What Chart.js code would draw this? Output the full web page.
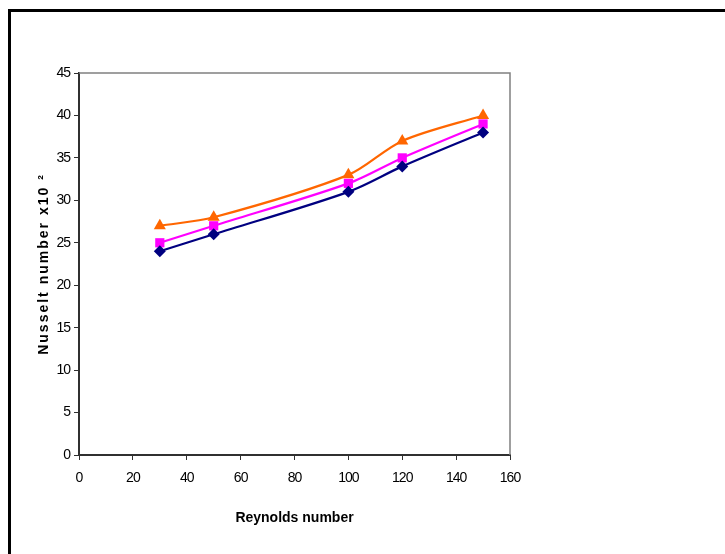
<!DOCTYPE html>
<html>
<head>
<meta charset="utf-8">
<script src="https://cdn.jsdelivr.net/npm/chart.js@4/dist/chart.umd.min.js"></script>
<style>
  body { margin: 0; background: #fff; overflow: hidden; }
  #wrap { position: relative; width: 725px; height: 554px; }
  #frame {
    position: absolute; left: 8px; top: 9px; width: 900px; height: 800px;
    border-left: 3px solid #000; border-top: 3px solid #000; pointer-events: none;
  }
</style>
</head>
<body>
<div id="wrap">
  <canvas id="chart" width="725" height="554"></canvas>
  <div id="frame"></div>
</div>
<script>
const reynolds = [30, 50, 100, 120, 150];
const nuBlue = [24, 26, 31, 34, 38];
const nuPink = [25, 27, 32, 35, 39];
const nuOrange = [27, 28, 33, 37, 40];
const xTicks = [0, 20, 40, 60, 80, 100, 120, 140, 160];
const yTicks = [0, 5, 10, 15, 20, 25, 30, 35, 40, 45];

const tickFont = { family: "'Liberation Sans', Arial, sans-serif", size: 14 };

function toPoints(ys) {
  return reynolds.map((x, i) => ({ x: x, y: ys[i] }));
}

// grey border round the plot area (top and right sides)
const plotBorder = {
  id: 'plotBorder',
  beforeDatasetsDraw(chart) {
    const { ctx, chartArea: a } = chart;
    ctx.save();
    ctx.strokeStyle = '#808080';
    ctx.lineWidth = 1.5;
    ctx.beginPath();
    ctx.moveTo(a.left, a.top);
    ctx.lineTo(a.right, a.top);
    ctx.lineTo(a.right, a.bottom);
    ctx.stroke();
    ctx.restore();
  }
};

// letter spacing tweaks: spaced y title, squeezed tick labels
function withSpacing(chart, fn, spacing) {
  return function () {
    const ctx = chart.ctx;
    ctx.save();
    ctx.letterSpacing = spacing;
    fn.apply(this, arguments);
    ctx.restore();
  };
}

const spacing = {
  id: 'spacing',
  beforeDraw(chart) {
    ['x', 'y'].forEach(id => {
      const s = chart.scales[id];
      if (s._patched) return;
      s.drawLabels = withSpacing(chart, s.drawLabels, '-1px');
      if (id === 'y') s.drawTitle = withSpacing(chart, s.drawTitle, '2px');
      s._patched = true;
    });
  }
};

new Chart(document.getElementById('chart'), {
  type: 'line',
  data: {
    datasets: [
      {
        label: 'Series 1',
        data: toPoints(nuBlue),
        borderColor: '#000080',
        backgroundColor: '#000080',
        pointStyle: 'rectRot',
        pointRadius: 6
      },
      {
        label: 'Series 2',
        data: toPoints(nuPink),
        borderColor: '#FF00FF',
        backgroundColor: '#FF00FF',
        pointStyle: 'rect',
        pointRadius: 6.5
      },
      {
        label: 'Series 3',
        data: toPoints(nuOrange),
        borderColor: '#FF6600',
        backgroundColor: '#FF6600',
        pointStyle: 'triangle',
        pointRadius: 7
      }
    ]
  },
  options: {
    responsive: false,
    animation: false,
    layout: { padding: { top: 73, right: 215, left: 0, bottom: 0 } },
    elements: {
      line: { borderWidth: 2.2, tension: 0.3, fill: false },
      point: { borderWidth: 0, hoverRadius: 6 }
    },
    plugins: {
      legend: { display: false },
      tooltip: { enabled: false }
    },
    scales: {
      x: {
        type: 'linear',
        min: 0,
        max: 160,
        afterBuildTicks: s => { s.ticks = xTicks.map(v => ({ value: v })); },
        afterFit: s => { s.height = 99; },
        grid: { drawOnChartArea: false, tickLength: 5, color: '#303030' },
        border: { color: '#303030', width: 2 },
        ticks: { color: '#000', font: tickFont, padding: 10, maxRotation: 0 },
        title: {
          display: true,
          text: 'Reynolds number',
          color: '#000',
          font: { family: "'Liberation Sans', Arial, sans-serif", size: 14, weight: 'bold' },
          padding: { top: 0, bottom: 27 }
        }
      },
      y: {
        type: 'linear',
        min: 0,
        max: 45,
        afterBuildTicks: s => { s.ticks = yTicks.map(v => ({ value: v })); },
        afterFit: s => { s.width = 79; },
        grid: { drawOnChartArea: false, tickLength: 5, color: '#303030' },
        border: { color: '#303030', width: 2 },
        ticks: { color: '#000', font: tickFont, padding: 4 },
        title: {
          display: true,
          text: 'Nusselt number x10 ²',
          color: '#000',
          font: { family: "'Liberation Sans', Arial, sans-serif", size: 14, weight: 'bold' },
          padding: { top: 36, bottom: 0 }
        }
      }
    }
  },
  plugins: [plotBorder, spacing]
});
</script>
</body>
</html>
